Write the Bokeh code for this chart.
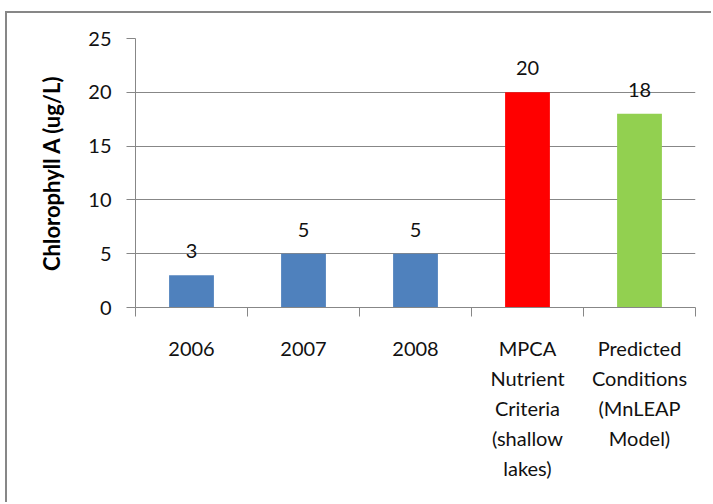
from bokeh.plotting import figure
from bokeh.models import Range1d, FixedTicker, LabelSet, ColumnDataSource
from bokeh.core.properties import value
from bokeh.embed import file_html
from bokeh.resources import INLINE

categories = ["2006", "2007", "2008",
              "MPCA\nNutrient\nCriteria\n(shallow\nlakes)",
              "Predicted\nConditions\n(MnLEAP\nModel)"]
values = [3, 5, 5, 20, 18]
colors = ["#4F81BD", "#4F81BD", "#4F81BD", "#FF0000", "#92D050"]
y_ticks = [0, 5, 10, 15, 20, 25]

FONT = "Lato"
GRAY = "#878787"

xs = [i + 0.5 for i in range(len(categories))]
src = ColumnDataSource(dict(x=xs, top=values, color=colors,
                            label=[str(v) for v in values]))

p = figure(width=706, height=491, output_backend="svg", toolbar_location=None,
           x_range=Range1d(0, len(categories)), y_range=Range1d(0, 25),
           min_border_left=128, min_border_right=18, min_border_top=25,
           min_border_bottom=197,
           styles={"margin-left": "5px", "margin-top": "11px",
                   "border-left": f"2px solid {GRAY}",
                   "border-top": f"2px solid {GRAY}"})
p.outline_line_color = None
p.background_fill_color = "white"
p.border_fill_color = "white"

p.vbar(x="x", top="top", width=0.4, bottom=0, color="color", line_color=None, source=src)

labels = LabelSet(x="x", y="top", text="label", source=src, text_align="center",
                  text_baseline="alphabetic", y_offset=17, text_font=value(FONT),
                  text_font_size=value("20px"), text_color=value("#111111"))
p.add_layout(labels)

# x axis: labels at category centers, ticks at category boundaries
p.xaxis.ticker = FixedTicker(ticks=xs, minor_ticks=list(range(len(categories) + 1)))
p.xaxis.major_label_overrides = {x: c for x, c in zip(xs, categories)}
p.xaxis.major_tick_out = 0
p.xaxis.major_tick_in = 0
p.xaxis.minor_tick_out = 9
p.xaxis.minor_tick_in = 0
p.xaxis.minor_tick_line_color = GRAY
p.xaxis.axis_line_color = GRAY
p.xaxis.major_label_text_font = FONT
p.xaxis.major_label_text_font_size = "20px"
p.xaxis.major_label_text_color = "#111111"
p.xaxis.major_label_text_line_height = 1.25
p.xaxis.major_label_standoff = 19
p.xgrid.visible = False

p.yaxis.ticker = FixedTicker(ticks=y_ticks, minor_ticks=[])
p.yaxis.major_tick_out = 9
p.yaxis.major_tick_in = 0
p.yaxis.major_tick_line_color = GRAY
p.yaxis.axis_line_color = GRAY
p.yaxis.major_label_text_font = FONT
p.yaxis.major_label_text_font_size = "20px"
p.yaxis.major_label_text_color = "#111111"
p.yaxis.major_label_standoff = 15
p.yaxis.axis_label = "Chlorophyll A (ug/L)"
p.yaxis.axis_label_text_font = FONT
p.yaxis.axis_label_text_font_style = "bold"
p.yaxis.axis_label_text_font_size = "22px"
p.yaxis.axis_label_text_color = "#000000"
p.yaxis.axis_label_standoff = 20
p.ygrid.ticker = FixedTicker(ticks=y_ticks)
p.ygrid.grid_line_color = GRAY

open("out.html", "w").write(file_html(p, INLINE))
